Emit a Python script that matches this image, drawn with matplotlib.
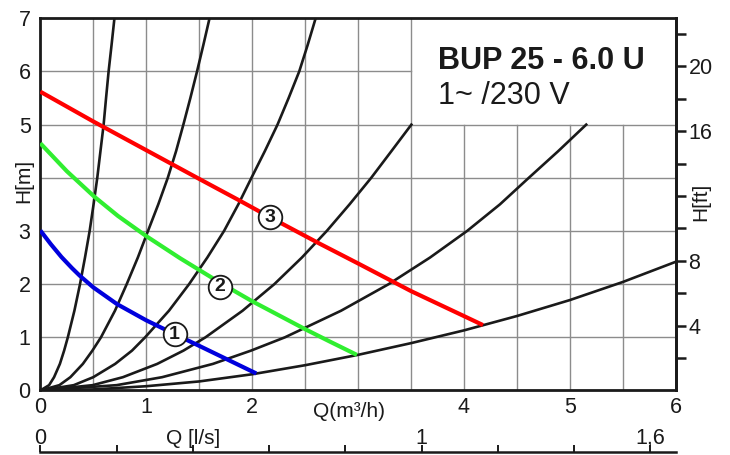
import numpy as np
import matplotlib.pyplot as plt

plt.rcParams['font.family'] = ['Liberation Sans', 'DejaVu Sans']

# system curves, Q in m3/h and H in m
sys_h = [0, 0.1, 0.25, 0.5, 0.75, 1, 1.5, 2, 2.5, 3, 3.5, 4, 4.5, 5, 5.5, 6, 6.5, 7]
sys1_q = [0, 0.083, 0.13, 0.185, 0.225, 0.26, 0.322, 0.375, 0.422, 0.466,
          0.503, 0.538, 0.568, 0.598, 0.621, 0.645, 0.673, 0.70]
sys2_q = [0, 0.18, 0.284, 0.402, 0.492, 0.573, 0.705, 0.816, 0.921, 1.017,
          1.114, 1.204, 1.282, 1.351, 1.417, 1.480, 1.540, 1.598]
sys3_q = [0, 0.316, 0.5, 0.707, 0.866, 0.99, 1.215, 1.405, 1.577, 1.735,
          1.87, 1.994, 2.12, 2.24, 2.345, 2.445, 2.525, 2.60]
sys4_h = [0, 0.1, 0.25, 0.5, 0.75, 1, 1.5, 2, 2.5, 3, 3.5, 4, 4.5, 5]
sys4_q = [0, 0.494, 0.78, 1.104, 1.352, 1.56, 1.91, 2.21, 2.47, 2.705,
          2.92, 3.125, 3.315, 3.504]
sys5_h = [0, 0.1, 0.25, 0.5, 0.75, 1, 1.5, 2, 2.5, 3, 3.5, 4, 4.5, 5]
sys5_q = [0, 0.72, 1.15, 1.63, 1.99, 2.31, 2.84, 3.29, 3.68, 4.03,
          4.34, 4.613, 4.89, 5.155]
sys6_q = [0, 0.5, 1.0, 1.5, 2.0, 2.5, 3.0, 3.5, 4.0, 4.5, 5.0, 5.5, 6.0]
sys6_h = [0, 0.02, 0.08, 0.17, 0.305, 0.475, 0.67, 0.89, 1.13, 1.40, 1.70, 2.04, 2.42]

# pump curves, speed 1..3
sp1_q = [0, 0.1, 0.2, 0.3, 0.372, 0.5, 0.724, 1.0, 1.268, 1.5, 2.0, 2.04]
sp1_h = [3.01, 2.75, 2.51, 2.30, 2.16, 1.94, 1.625, 1.32, 1.06, 0.84, 0.358, 0.32]
sp2_q = [0, 0.25, 0.513, 0.733, 1.0, 1.318, 1.70, 2.0, 2.5, 2.733, 2.99]
sp2_h = [4.65, 4.125, 3.64, 3.283, 2.904, 2.49, 2.024, 1.679, 1.154, 0.921, 0.669]
sp3_q = [0, 0.5, 1.0, 1.5, 1.865, 2.167, 2.639, 3.0, 3.356, 3.5, 4.0, 4.18]
sp3_h = [5.62, 5.06, 4.52, 3.98, 3.59, 3.26, 2.76, 2.39, 2.02, 1.87, 1.40, 1.23]

speed_names = ['1', '2', '3']
speed_lbl_q = [1.268, 1.695, 2.167]
speed_lbl_h = [1.06, 1.95, 3.26]

q_ticks = [0, 1, 2, 3, 4, 5, 6]
q_labels = ['0', '1', '2', '', '4', '5', '6']
h_ticks = [0, 1, 2, 3, 4, 5, 6, 7]
h_labels = ['0', '1', '2', '3', '', '5', '6', '7']
ft_ticks = [2, 4, 6, 8, 10, 12, 14, 16, 18, 20, 22]
ft_labels = ['', '4', '', '8', '', '', '', '16', '', '20', '']
ls_ticks = [0, 0.2, 0.4, 0.6, 0.8, 1.0, 1.2, 1.4, 1.6]
ls_labels = ['0', '', '', '', '', '1', '', '', '1,6']

ink = '#1a1a1a'

fig = plt.figure(figsize=(7.3, 4.55), dpi=100)
ax = fig.add_axes([0.0552, 0.1418, 0.8704, 0.818])
ax.set_xlim(0, 6)
ax.set_ylim(0, 7)

# grid, with the corner left free for the type label
gcol = '#8c8c8c'
for q in np.arange(0.5, 6, 0.5):
    ax.plot([q, q], [0, 7 if q <= 3.5 else 5], color=gcol, lw=1, zorder=1)
for h in range(1, 7):
    ax.plot([0, 6 if h <= 5 else 3.5], [h, h], color=gcol, lw=1, zorder=1)

for qs, hs in [(sys1_q, sys_h), (sys2_q, sys_h), (sys3_q, sys_h),
               (sys4_q, sys4_h), (sys5_q, sys5_h), (sys6_q, sys6_h)]:
    ax.plot(qs, hs, color=ink, lw=1.9, zorder=2, solid_joinstyle='round')

ax.plot(sp1_q, sp1_h, color='#0000dd', lw=3, zorder=3, solid_capstyle='butt')
ax.plot(sp2_q, sp2_h, color='#30ee30', lw=3, zorder=3, solid_capstyle='butt')
ax.plot(sp3_q, sp3_h, color='#ff0000', lw=3, zorder=3, solid_capstyle='butt')

for name, q, h in zip(speed_names, speed_lbl_q, speed_lbl_h):
    ax.plot(q, h, 'o', ms=17, mfc='white', mec=ink, mew=1.3, zorder=5)
    ax.text(q, h, name, ha='center', va='center', fontsize=14,
            fontweight='bold', color=ink, zorder=6)

ax.text(3.76, 6.045, 'BUP 25 - 6.0 U', fontsize=22, fontweight='bold',
        color=ink, va='baseline')
ax.text(3.76, 5.39, '1~ /230 V', fontsize=22, color=ink, va='baseline')

ax.set_xticks(q_ticks)
ax.set_xticklabels(q_labels)
ax.set_yticks(h_ticks)
ax.set_yticklabels(h_labels)
ax.tick_params(axis='x', length=0, pad=5, labelsize=15.5, colors=ink)
ax.tick_params(axis='y', length=0, pad=7, labelsize=15.5, colors=ink)
for s in ax.spines.values():
    s.set_linewidth(2.0)
    s.set_color(ink)

# feet on the right
axr = ax.twinx()
axr.set_ylim(0, 7 / 0.3048)
axr.set_yticks(ft_ticks)
axr.set_yticklabels(ft_labels)
axr.tick_params(axis='y', direction='out', length=7.2, width=1.8, pad=2,
                labelsize=15.5, colors=ink)
for k in ['left', 'top', 'bottom']:
    axr.spines[k].set_visible(False)
axr.spines['right'].set_linewidth(2.0)
axr.spines['right'].set_color(ink)

# l/s scale at the bottom
ax2 = fig.add_axes([0.0552, 0.005, 0.8704, 0.0016])
ax2.set_xlim(0, 6 / 3.6)
ax2.patch.set_visible(False)
for k in ['left', 'right', 'bottom']:
    ax2.spines[k].set_visible(False)
ax2.spines['top'].set_linewidth(1.8)
ax2.spines['top'].set_color(ink)
ax2.set_yticks([])
ax2.xaxis.tick_top()
ax2.set_xticks(ls_ticks)
ax2.set_xticklabels(ls_labels)
ax2.tick_params(axis='x', direction='out', length=5, width=1.4, pad=-2.5,
                labelsize=15.5, colors=ink)

fig.text(0.0329, 0.602, 'H[m]', rotation=90, ha='center', va='center',
         fontsize=15, color=ink)
fig.text(0.9603, 0.556, 'H[ft]', rotation=90, ha='center', va='center',
         fontsize=15, color=ink)
fig.text(0.478, 0.0967, 'Q(m³/h)', ha='center', va='center',
         fontsize=15, color=ink)
fig.text(0.265, 0.036, 'Q [l/s]', ha='center', va='center',
         fontsize=15, color=ink)

fig.savefig('out.png', dpi=100)
